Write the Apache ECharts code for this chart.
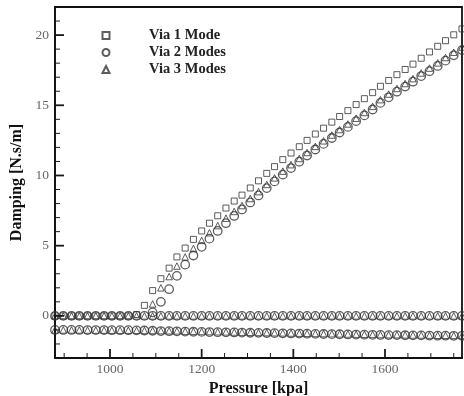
<!DOCTYPE html>
<html><head><meta charset="utf-8">
<script src="https://cdn.jsdelivr.net/npm/echarts@6/dist/echarts.min.js"></script>
<style>html,body{margin:0;padding:0;background:#fff}#c{width:464px;height:396px}</style>
</head><body><div id="c"></div>
<script>
// Pressure grid [kpa]
const pressure = [880, 898, 916, 933, 951, 969, 987, 1004, 1022, 1040, 1058, 1075, 1093, 1111, 1129, 1146, 1164, 1182, 1200, 1217, 1235, 1253, 1271, 1288, 1306, 1324, 1342, 1359, 1377, 1395, 1413, 1430, 1448, 1466, 1484, 1501, 1519, 1537, 1555, 1573, 1590, 1608, 1626, 1644, 1661, 1679, 1697, 1715, 1732, 1750, 1768];

// Via 1 Mode (squares)
const mode1 = [0, 0, 0, 0, 0, 0, 0, 0, 0, 0, 0.1, 0.75, 1.8, 2.65, 3.4, 4.2, 4.83, 5.45, 6.05, 6.6, 7.13, 7.68, 8.18, 8.6, 9.11, 9.62, 10.15, 10.63, 11.13, 11.6, 12.05, 12.5, 12.95, 13.37, 13.8, 14.2, 14.62, 15.05, 15.47, 15.9, 16.35, 16.77, 17.18, 17.55, 17.93, 18.35, 18.8, 19.2, 19.6, 20.02, 20.44];

// Via 2 Modes (circles)
const mode2Zero = [0, 0, 0, 0, 0, 0, 0, 0, 0, 0, 0, 0, 0, 0, 0, 0, 0, 0, 0, 0, 0, 0, 0, 0, 0, 0, 0, 0, 0, 0, 0, 0, 0, 0, 0, 0, 0, 0, 0, 0, 0, 0, 0, 0, 0, 0, 0, 0, 0, 0, 0];
const mode2Neg = [-1.0, -1.0, -1.0, -1.0, -1.01, -1.01, -1.01, -1.02, -1.02, -1.02, -1.03, -1.04, -1.06, -1.08, -1.09, -1.1, -1.12, -1.13, -1.14, -1.15, -1.16, -1.17, -1.18, -1.19, -1.2, -1.21, -1.22, -1.23, -1.24, -1.25, -1.26, -1.27, -1.28, -1.29, -1.3, -1.31, -1.32, -1.33, -1.34, -1.35, -1.36, -1.37, -1.37, -1.38, -1.39, -1.39, -1.4, -1.41, -1.41, -1.42, -1.42];
const mode2Rise = [null, null, null, null, null, null, null, null, null, null, null, null, 0.25, 1.0, 1.9, 2.85, 3.65, 4.3, 4.92, 5.5, 6.05, 6.6, 7.12, 7.58, 8.08, 8.58, 9.1, 9.58, 10.06, 10.53, 10.98, 11.42, 11.85, 12.25, 12.67, 13.06, 13.46, 13.87, 14.28, 14.7, 15.17, 15.57, 15.97, 16.33, 16.68, 17.08, 17.43, 17.8, 18.18, 18.56, 18.93];

// Via 3 Modes (triangles)
const mode3Zero = [0, 0, 0, 0, 0, 0, 0, 0, 0, 0, 0, 0, 0, 0, 0, 0, 0, 0, 0, 0, 0, 0, 0, 0, 0, 0, 0, 0, 0, 0, 0, 0, 0, 0, 0, 0, 0, 0, 0, 0, 0, 0, 0, 0, 0, 0, 0, 0, 0, 0, 0];
const mode3Neg = [-1.0, -1.0, -1.0, -1.0, -1.01, -1.01, -1.01, -1.02, -1.02, -1.02, -1.03, -1.04, -1.04, -1.05, -1.06, -1.07, -1.09, -1.1, -1.11, -1.12, -1.13, -1.14, -1.15, -1.16, -1.17, -1.18, -1.19, -1.2, -1.21, -1.22, -1.23, -1.24, -1.25, -1.26, -1.27, -1.28, -1.29, -1.3, -1.31, -1.32, -1.33, -1.34, -1.34, -1.35, -1.36, -1.36, -1.37, -1.38, -1.38, -1.39, -1.39];
const mode3Rise = [null, null, null, null, null, null, null, null, null, null, null, null, 0.85, 2.0, 2.8, 3.55, 4.2, 4.8, 5.38, 5.92, 6.43, 6.96, 7.44, 7.86, 8.36, 8.85, 9.36, 9.83, 10.31, 10.77, 11.21, 11.64, 12.07, 12.47, 12.88, 13.27, 13.67, 14.08, 14.49, 14.92, 15.4, 15.8, 16.2, 16.55, 16.9, 17.3, 17.65, 18.02, 18.4, 18.78, 19.15];

// Axis ticks / labels
const xMajorTicks = [1000, 1200, 1400, 1600];
const xMinorTicks = [900, 950, 1050, 1100, 1150, 1250, 1300, 1350, 1450, 1500, 1550, 1650, 1700, 1750];
const yMajorTicks = [0, 5, 10, 15, 20];
const yMinorTicks = [-2, -1, 1, 2, 3, 4, 6, 7, 8, 9, 11, 12, 13, 14, 16, 17, 18, 19, 21];

const X_MIN = 880, X_MAX = 1768, Y_MIN = -3, Y_MAX = 22;

function pairs(...arrs) {
  const out = [];
  arrs.forEach(a => a.forEach((v, i) => { if (v !== null) out.push([pressure[i], v]); }));
  return out;
}

// inward ticks drawn through the axis scales
function tickSeries(values, isX, len, width) {
  return {
    type: 'custom', silent: true, clip: false, z: 5,
    data: values.map(v => isX ? [v, Y_MIN] : [X_MIN, v]),
    renderItem: (params, api) => {
      const p = api.coord([api.value(0), api.value(1)]);
      const shape = isX ? {x1: p[0], y1: p[1], x2: p[0], y2: p[1] - len}
                        : {x1: p[0], y1: p[1], x2: p[0] + len, y2: p[1]};
      return {type: 'line', shape: shape, style: {stroke: '#1a1a1a', lineWidth: width}};
    }
  };
}

const serif = 'Liberation Serif';
const stroke = '#333';
const chart = echarts.init(document.getElementById('c'), null, {renderer: 'canvas'});
chart.setOption({
  animation: false,
  backgroundColor: '#fff',
  grid: {left: 55, right: 2, top: 7, bottom: 38, show: true, borderColor: '#111', borderWidth: 1.8,
         containLabel: false, outerBoundsMode: 'none'},
  legend: {
    orient: 'vertical', left: 96.5, top: 22, itemWidth: 7, itemHeight: 7, itemGap: 0,
    textStyle: {fontFamily: serif, fontWeight: 'bold', fontSize: 14.5, color: '#222', lineHeight: 17, padding: [0, 0, 0, 34.5]},
    data: ['Via 1 Mode', 'Via 2 Modes', 'Via 3 Modes']
  },
  xAxis: {
    type: 'value', min: X_MIN, max: X_MAX,
    name: 'Pressure [kpa]', nameLocation: 'middle', nameGap: 14,
    nameTextStyle: {fontFamily: serif, fontWeight: 'bold', fontSize: 16, color: '#111'},
    axisLine: {show: true, onZero: false, lineStyle: {color: '#111', width: 1.8}},
    axisTick: {show: false},
    axisLabel: {customValues: xMajorTicks, formatter: v => String(v), fontFamily: serif, fontSize: 13.5, color: '#666', margin: 4},
    splitLine: {show: false}
  },
  yAxis: {
    type: 'value', min: Y_MIN, max: Y_MAX,
    name: 'Damping [N.s/m]', nameLocation: 'middle', nameGap: 30,
    nameTextStyle: {fontFamily: serif, fontWeight: 'bold', fontSize: 16, color: '#111'},
    axisLine: {show: true, onZero: false, lineStyle: {color: '#111', width: 1.8}},
    axisTick: {show: false},
    axisLabel: {customValues: yMajorTicks, formatter: v => String(v), fontFamily: serif, fontSize: 13.5, color: '#666', margin: 6},
    splitLine: {show: false}
  },
  series: [
    tickSeries(xMajorTicks, true, 9, 1.8),
    tickSeries(xMinorTicks, true, 5, 1),
    tickSeries(yMajorTicks, false, 9, 1.8),
    tickSeries(yMinorTicks, false, 5, 1),
    {name: 'Via 1 Mode', type: 'scatter', symbol: 'rect', symbolSize: 6, clip: true,
     itemStyle: {color: 'rgba(255,255,255,0)', borderColor: stroke, borderWidth: 1},
     data: pairs(mode1)},
    {name: 'Via 2 Modes', type: 'scatter', symbol: 'circle', symbolSize: 8.5, clip: true,
     itemStyle: {color: 'rgba(255,255,255,0)', borderColor: stroke, borderWidth: 1.3},
     data: pairs(mode2Zero, mode2Neg, mode2Rise)},
    {name: 'Via 3 Modes', type: 'scatter', symbol: 'triangle', symbolSize: 6.5, clip: true,
     itemStyle: {color: 'rgba(255,255,255,0)', borderColor: stroke, borderWidth: 1},
     data: pairs(mode3Zero, mode3Neg, mode3Rise)}
  ]
});
</script>
</body></html>
